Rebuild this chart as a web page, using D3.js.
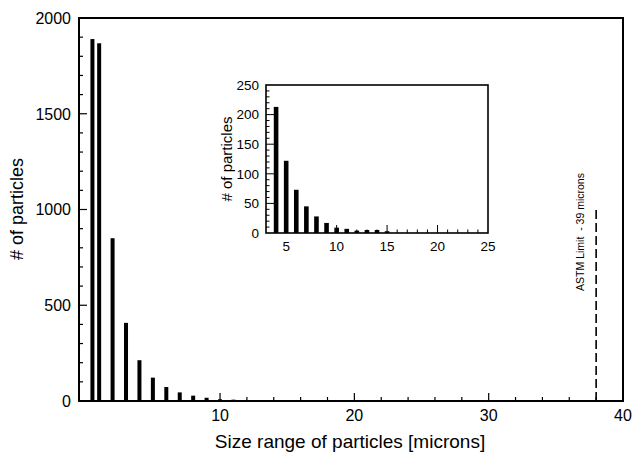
<!DOCTYPE html>
<html>
<head>
<meta charset="utf-8">
<script src="https://cdn.jsdelivr.net/npm/d3@7"></script>
<style>
  body { margin: 0; background: #fff; }
  text { font-family: "Liberation Sans", Arial, sans-serif; fill: #000; }
</style>
</head>
<body>
<svg id="chart" width="633" height="453"></svg>
<script>
// particle size bins (microns) and counts
const sizes  = [0.5, 1, 2, 3, 4, 5, 6, 7, 8, 9, 10, 11, 12, 13, 14, 15];
const counts = [1890, 1868, 850, 408, 213, 122, 73, 45, 28, 17, 9, 7, 4, 5, 5, 3];

const xTicks = [10, 20, 30, 40];
const yTicks = [0, 500, 1000, 1500, 2000];
const insetXTicks = [5, 10, 15, 20, 25];
const insetYTicks = [0, 50, 100, 150, 200, 250];

const astmX = 38;
const astmTop = 1000;
const astmLabel = "ASTM Limit  - 39 microns";

const svg = d3.select("#chart");

// main plot
const m = {left: 79, top: 18, right: 623, bottom: 401};
const x = d3.scaleLinear().domain([-0.5, 40]).range([m.left, m.right]);
const y = d3.scaleLinear().domain([0, 2000]).range([m.bottom, m.top]);

const data = sizes.map((s, i) => ({size: s, count: counts[i]}));

svg.append("g")
    .selectAll("rect")
    .data(data)
    .enter()
    .append("rect")
    .attr("x", d => x(d.size) - 2)
    .attr("width", 4)
    .attr("y", d => y(d.count))
    .attr("height", d => y(0) - y(d.count))
    .attr("fill", "#000");

// ticks inward
const ax = svg.append("g");
ax.selectAll("line.xminor")
    .data(d3.range(2, 40, 2))
    .enter()
    .append("line")
    .attr("x1", d => x(d)).attr("x2", d => x(d))
    .attr("y1", m.bottom).attr("y2", d => m.bottom - (d % 10 === 0 ? 8 : 4))
    .attr("stroke", "#000").attr("stroke-width", 1.2);
ax.selectAll("line.yminor")
    .data(d3.range(100, 2000, 100))
    .enter()
    .append("line")
    .attr("y1", d => y(d)).attr("y2", d => y(d))
    .attr("x1", m.left).attr("x2", d => m.left + (d % 500 === 0 ? 8 : 4))
    .attr("stroke", "#000").attr("stroke-width", 1.2);

ax.selectAll("text.xt")
    .data(xTicks)
    .enter()
    .append("text")
    .attr("x", d => x(d))
    .attr("y", 421)
    .attr("text-anchor", "middle")
    .style("font-size", "16px")
    .text(d => d);
ax.selectAll("text.yt")
    .data(yTicks)
    .enter()
    .append("text")
    .attr("x", 71)
    .attr("y", d => y(d))
    .attr("dy", "0.36em")
    .attr("text-anchor", "end")
    .style("font-size", "16px")
    .text(d => d);

svg.append("rect")
    .attr("x", m.left).attr("y", m.top)
    .attr("width", m.right - m.left).attr("height", m.bottom - m.top)
    .attr("fill", "none").attr("stroke", "#000").attr("stroke-width", 2);

svg.append("text")
    .attr("x", 350)
    .attr("y", 448)
    .attr("text-anchor", "middle")
    .style("font-size", "19px")
    .text("Size range of particles [microns]");
svg.append("text")
    .attr("transform", "translate(23,209) rotate(-90)")
    .attr("text-anchor", "middle")
    .style("font-size", "18px")
    .text("# of particles");

// ASTM limit
svg.append("line")
    .attr("x1", x(astmX)).attr("x2", x(astmX))
    .attr("y1", y(0)).attr("y2", y(astmTop))
    .attr("stroke", "#000").attr("stroke-width", 1.6)
    .attr("stroke-dasharray", "9,4");
svg.append("text")
    .attr("transform", "translate(" + (x(astmX) - 16) + ",232) rotate(-90)")
    .attr("text-anchor", "middle")
    .attr("dy", "0.35em")
    .style("font-size", "10.5px")
    .style("white-space", "pre")
    .text(astmLabel);

// inset
const n = {left: 266, top: 85, right: 488, bottom: 233};
const xi = d3.scaleLinear().domain([3, 25]).range([n.left, n.right]);
const yi = d3.scaleLinear().domain([0, 250]).range([n.bottom, n.top]);
const inset = svg.append("g");
const insetData = data.filter(d => d.size >= 4);

inset.selectAll("rect")
    .data(insetData)
    .enter()
    .append("rect")
    .attr("x", d => xi(d.size) - 2.3)
    .attr("width", 4.6)
    .attr("y", d => yi(d.count))
    .attr("height", d => yi(0) - yi(d.count))
    .attr("fill", "#000");

inset.selectAll("line.xi")
    .data(d3.range(4, 25, 1))
    .enter()
    .append("line")
    .attr("x1", d => xi(d)).attr("x2", d => xi(d))
    .attr("y1", n.bottom).attr("y2", d => n.bottom - (d % 5 === 0 ? 8 : 3.5))
    .attr("stroke", "#000").attr("stroke-width", 1);
inset.selectAll("line.yi")
    .data(d3.range(10, 250, 10))
    .enter()
    .append("line")
    .attr("y1", d => yi(d)).attr("y2", d => yi(d))
    .attr("x1", n.left).attr("x2", d => n.left + (d % 50 === 0 ? 8 : 3.5))
    .attr("stroke", "#000").attr("stroke-width", 1);

inset.selectAll("text.xi")
    .data(insetXTicks)
    .enter()
    .append("text")
    .attr("x", d => xi(d))
    .attr("y", 251)
    .attr("text-anchor", "middle")
    .style("font-size", "13.5px")
    .text(d => d);
inset.selectAll("text.yi")
    .data(insetYTicks)
    .enter()
    .append("text")
    .attr("x", 259)
    .attr("y", d => yi(d))
    .attr("dy", "0.36em")
    .attr("text-anchor", "end")
    .style("font-size", "13.5px")
    .text(d => d);

inset.append("rect")
    .attr("x", n.left).attr("y", n.top)
    .attr("width", n.right - n.left).attr("height", n.bottom - n.top)
    .attr("fill", "none").attr("stroke", "#000").attr("stroke-width", 1.6);

inset.append("text")
    .attr("transform", "translate(232," + (n.top + n.bottom) / 2 + ") rotate(-90)")
    .attr("text-anchor", "middle")
    .style("font-size", "15px")
    .text("# of particles");
</script>
</body>
</html>
